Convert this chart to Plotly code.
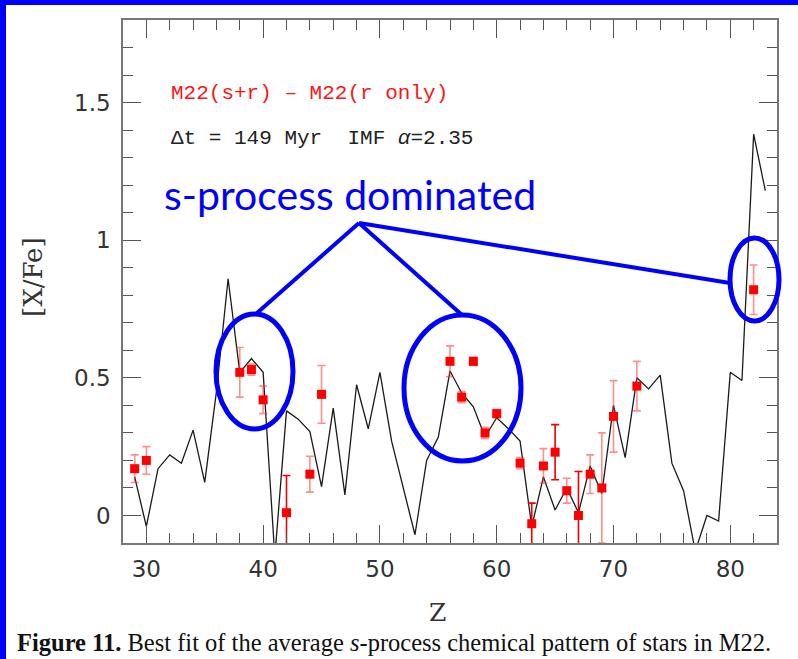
import plotly.graph_objects as go

# Model [X/Fe] pattern, one value per atomic number
model_z = list(range(29, 84))
model_xfe = [0.14, -0.04, 0.17, 0.22, 0.19, 0.31, 0.12, 0.45, 0.86, 0.52,
             0.57, 0.52, -0.15, 0.38, 0.35, 0.305, 0.105, 0.39, 0.075, 0.475,
             0.315, 0.52, 0.27, 0.10, -0.07, 0.20, 0.285, 0.525, 0.445, 0.395,
             0.285, 0.355, 0.315, 0.27, -0.04, 0.14, 0.02, 0.10, 0.01, 0.18,
             0.08, 0.40, 0.21, 0.50, 0.46, 0.51, 0.19, 0.09, -0.13, 0.00,
             -0.02, 0.52, 0.49, 1.385, 1.18]

# Observed M22(s+r) - M22(r only) differences
obs_z = [29, 30, 38, 39, 40, 42, 44, 45, 56, 57, 58, 59, 60, 62, 63, 64, 65,
         66, 67, 68, 69, 70, 72, 82]
obs_xfe = [0.17, 0.20, 0.52, 0.53, 0.42, 0.01, 0.15, 0.44, 0.56, 0.43, 0.56,
           0.30, 0.37, 0.19, -0.03, 0.18, 0.23, 0.09, 0.00, 0.15, 0.10, 0.36,
           0.47, 0.82]
obs_err = [0.05, 0.05, 0.09, 0.02, 0.05, 0.135, 0.065, 0.105, 0.056, 0.02,
           0.015, 0.02, 0.015, 0.02, 0.075, 0.063, 0.10, 0.045, 0.16, 0.07,
           0.20, 0.13, 0.09, 0.09]
# elements whose error bars are drawn in full red
strong_z = [42, 63, 65, 67]

x_ticks = [30, 40, 50, 60, 70, 80]
y_ticks = [0, 0.5, 1, 1.5]
y_tick_text = ["0", "0.5", "1", "1.5"]

W, H = 798, 659
PL, PR, PT, PB = 123, 777, 20, 543


def fx(p):
    return (p - PL) / (PR - PL)


def fy(p):
    return (PB - p) / (PB - PT)


BLUE = "rgb(0,0,255)"
LIGHT = "rgba(255,50,50,0.55)"
SOLID = "rgb(240,0,0)"

fig = go.Figure()

fig.add_trace(go.Scatter(
    x=model_z, y=model_xfe, mode="lines",
    line=dict(color="#1a1a1a", width=1.3), showlegend=False))

light_idx = [i for i, z in enumerate(obs_z) if z not in strong_z]
solid_idx = [i for i, z in enumerate(obs_z) if z in strong_z]
for idx, col in ((light_idx, LIGHT), (solid_idx, SOLID)):
    fig.add_trace(go.Scatter(
        x=[obs_z[i] for i in idx], y=[obs_xfe[i] for i in idx], mode="markers",
        marker=dict(size=1, color="rgba(0,0,0,0)"),
        error_y=dict(type="data", array=[obs_err[i] for i in idx],
                     color=col, thickness=1.6, width=4),
        showlegend=False))

fig.add_trace(go.Scatter(
    x=obs_z, y=obs_xfe, mode="markers",
    marker=dict(symbol="square", size=9, color="rgb(255,0,0)",
                line=dict(width=0)),
    showlegend=False))

axis_common = dict(
    showline=True, linecolor="#777", linewidth=1.5, mirror="ticks",
    ticks="inside", ticklen=18, tickwidth=1.3, tickcolor="#555",
    showgrid=False, zeroline=False,
    tickfont=dict(family="DejaVu Sans", size=23, color="#333"),
)

fig.update_xaxes(range=[28, 84], tickvals=x_ticks, ticklabelstandoff=5,
                 minor=dict(dtick=2, tick0=0, ticklen=10, tickcolor="#555",
                            tickwidth=1.2, ticks="inside", showgrid=False),
                 **axis_common)
fig.update_yaxes(range=[-0.1, 1.8], tickvals=y_ticks, ticktext=y_tick_text,
                 ticklabelstandoff=6,
                 minor=dict(dtick=0.1, tick0=0, ticklen=10, tickcolor="#555",
                            tickwidth=1.2, ticks="inside", showgrid=False),
                 **axis_common)

shapes = []
# blue frame on the top and left edges of the page
shapes.append(dict(type="rect", xref="paper", yref="paper",
                   x0=fx(0), x1=fx(6), y0=fy(H), y1=fy(0),
                   fillcolor=BLUE, line=dict(width=0), layer="above"))
shapes.append(dict(type="rect", xref="paper", yref="paper",
                   x0=fx(0), x1=fx(W), y0=fy(5), y1=fy(0),
                   fillcolor=BLUE, line=dict(width=0), layer="above"))

# ellipses around the s-process dominated groups
for (x0, x1, y0, y1) in [(216, 293, 314, 429), (404, 521, 315, 461),
                         (730, 779, 238, 321)]:
    shapes.append(dict(type="circle", xref="paper", yref="paper",
                       x0=fx(x0), x1=fx(x1), y0=fy(y1), y1=fy(y0),
                       line=dict(color=BLUE, width=5), layer="above"))

apex = (359, 223)
for (ex, ey) in [(257, 313), (462, 315), (730, 283)]:
    shapes.append(dict(type="line", xref="paper", yref="paper",
                       x0=fx(apex[0]), y0=fy(apex[1]), x1=fx(ex), y1=fy(ey),
                       line=dict(color=BLUE, width=4), layer="above"))

annotations = [
    dict(text="M22(s+r) \u2013 M22(r only)", x=fx(169), y=fy(94),
         xanchor="left", yanchor="middle",
         font=dict(family="Liberation Mono", size=21, color="rgb(255,20,20)")),
    dict(text="\u0394t = 149 Myr  IMF <i>\u03b1</i>=2.35", x=fx(169), y=fy(138),
         xanchor="left", yanchor="middle",
         font=dict(family="Liberation Mono", size=21, color="#222")),
    dict(text="s-process dominated", x=fx(350), y=fy(194),
         xanchor="center", yanchor="middle",
         font=dict(family="Lato", size=41, color=BLUE)),
    dict(text="[X/Fe]", x=fx(33), y=fy(277), textangle=-90,
         xanchor="center", yanchor="middle",
         font=dict(family="DejaVu Serif", size=26, color="#333")),
    dict(text="Z", x=fx(437), y=fy(612),
         xanchor="center", yanchor="middle",
         font=dict(family="DejaVu Serif", size=25, color="#333")),
    dict(text="<b>Figure 11.</b> Best fit of the average <i>s</i>-process "
              "chemical pattern of stars in M22.",
         x=fx(394), y=fy(642), xanchor="center", yanchor="middle",
         font=dict(family="Liberation Serif", size=24.5, color="#111")),
]
for a in annotations:
    a.update(xref="paper", yref="paper", showarrow=False)

fig.update_layout(
    width=W, height=H,
    margin=dict(l=PL, r=W - PR, t=PT, b=H - PB, autoexpand=False),
    paper_bgcolor="white", plot_bgcolor="white",
    shapes=shapes, annotations=annotations, showlegend=False,
)

fig.write_html("out.html")
